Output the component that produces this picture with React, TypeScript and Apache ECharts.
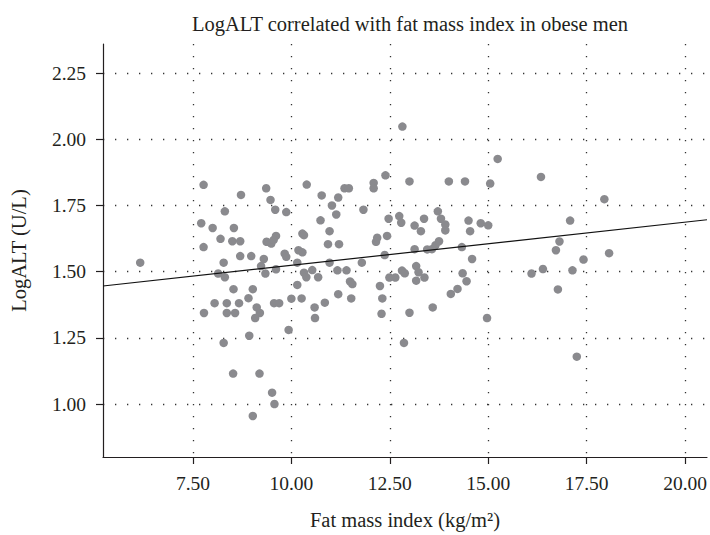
import React, { useEffect, useRef } from "react";
import * as echarts from "echarts";

const titleText = "LogALT correlated with fat mass index in obese men";
const xAxisName = "Fat mass index (kg/m\u00B2)";
const yAxisName = "LogALT (U/L)";

const xTicks = [7.5, 10, 12.5, 15, 17.5, 20];
const yTicks = [1.0, 1.25, 1.5, 1.75, 2.0, 2.25];
const xRange = [5.215, 20.557];
const yRange = [0.8, 2.36];

// regression line: y = intercept + slope * x
const regIntercept = 1.361;
const regSlope = 0.0163;

const points: number[][] = [
  [6.16, 1.534], [7.77, 1.828], [8.72, 1.79], [9.36, 1.815], [9.47, 1.771], [9.59, 1.734],
  [9.87, 1.725], [8.31, 1.728], [7.71, 1.683], [8.0, 1.665], [8.54, 1.665], [8.2, 1.624],
  [8.5, 1.615], [8.7, 1.615], [7.77, 1.593], [9.37, 1.613], [9.49, 1.606], [9.61, 1.635],
  [9.55, 1.62], [8.7, 1.559], [8.98, 1.559], [9.3, 1.548], [9.83, 1.568], [9.87, 1.556],
  [8.28, 1.534], [9.23, 1.521], [8.14, 1.493], [8.31, 1.479], [9.34, 1.493], [9.61, 1.509],
  [10.15, 1.534], [10.15, 1.45], [8.53, 1.434], [9.02, 1.434], [8.91, 1.4], [8.05, 1.381],
  [8.36, 1.381], [8.67, 1.381], [9.12, 1.365], [9.2, 1.344], [9.08, 1.325], [7.78, 1.344],
  [8.36, 1.344], [8.57, 1.344], [9.56, 1.381], [9.69, 1.381], [10.0, 1.398], [8.93, 1.258],
  [9.93, 1.28], [8.28, 1.231], [8.52, 1.115], [9.19, 1.115], [9.51, 1.043], [9.57, 1.0],
  [9.02, 0.955],
  [12.82, 2.048], [10.39, 1.829], [10.77, 1.788], [11.19, 1.78], [11.03, 1.75], [11.14, 1.716],
  [11.35, 1.815], [11.46, 1.815], [12.09, 1.835], [12.09, 1.815], [12.39, 1.864], [13.0, 1.841],
  [14.0, 1.841], [14.41, 1.841], [11.83, 1.734], [10.74, 1.694], [10.97, 1.653], [12.47, 1.7],
  [12.74, 1.71], [12.79, 1.685], [13.37, 1.7], [13.13, 1.674], [13.29, 1.653], [13.72, 1.728],
  [13.8, 1.7], [13.91, 1.678], [13.91, 1.656], [14.5, 1.693], [14.54, 1.653], [10.28, 1.644],
  [10.32, 1.638], [10.93, 1.604], [11.21, 1.604], [10.18, 1.581], [10.28, 1.573], [10.97, 1.534],
  [11.79, 1.534], [12.37, 1.563], [12.15, 1.613], [12.18, 1.628], [12.43, 1.635], [13.13, 1.585],
  [13.45, 1.584], [13.57, 1.585], [13.66, 1.6], [13.75, 1.615], [14.33, 1.593], [14.59, 1.548],
  [10.32, 1.496], [10.38, 1.479], [10.53, 1.506], [10.68, 1.479], [11.17, 1.505], [11.4, 1.505],
  [11.49, 1.463], [11.55, 1.453], [12.25, 1.446], [12.49, 1.478], [12.64, 1.478], [12.81, 1.504],
  [12.88, 1.494], [13.17, 1.521], [13.23, 1.498], [13.17, 1.466], [13.38, 1.478], [14.35, 1.494],
  [14.45, 1.464], [10.26, 1.399], [10.59, 1.365], [10.6, 1.325], [10.85, 1.383], [11.19, 1.415],
  [11.52, 1.399], [12.31, 1.399], [12.29, 1.341], [13.0, 1.345], [13.59, 1.365], [14.05, 1.416],
  [14.22, 1.435], [12.86, 1.231],
  [15.24, 1.926], [15.05, 1.833], [16.34, 1.858], [17.95, 1.774], [14.81, 1.683], [15.0, 1.675],
  [17.08, 1.693], [16.81, 1.614], [16.72, 1.581], [17.42, 1.546], [18.07, 1.57], [16.1, 1.493],
  [16.39, 1.51], [17.14, 1.505], [16.77, 1.433], [14.97, 1.325], [17.25, 1.179],
];

const FONT = "'Liberation Serif', 'DejaVu Serif', serif";

export default function App() {
  const ref = useRef<HTMLDivElement>(null);
  useEffect(() => {
    if (!ref.current) return;
    const chart = echarts.init(ref.current, undefined, { renderer: "svg" });
    const gridLine = { show: true, lineStyle: { color: "#333", width: 1.3, type: [1.3, 10.7] as any } };
    const regLine = [
      [xRange[0], regIntercept + regSlope * xRange[0]],
      [xRange[1], regIntercept + regSlope * xRange[1]],
    ];
    chart.setOption({
      animation: false,
      backgroundColor: "#fff",
      textStyle: { fontFamily: FONT },
      graphic: [
        {
          type: "text",
          x: 410,
          y: 24,
          style: {
            text: titleText,
            fill: "#231f20",
            font: `20.5px ${FONT}`,
            textAlign: "center",
            textVerticalAlign: "middle",
          },
        },
      ],
      grid: { left: 103, right: 0, top: 44, bottom: 76, containLabel: false },
      xAxis: {
        type: "value",
        min: xRange[0],
        max: xRange[1],
        name: xAxisName,
        nameLocation: "middle",
        nameGap: 52,
        nameTextStyle: { fontFamily: FONT, fontSize: 20.5, color: "#231f20" },
        axisLine: { show: true, onZero: false, lineStyle: { color: "#231f20", width: 1.2 } },
        axisTick: { show: true, customValues: xTicks, length: 7, lineStyle: { color: "#231f20", width: 1.2 } },
        axisLabel: {
          customValues: xTicks,
          formatter: (v: number) => v.toFixed(2),
          fontFamily: FONT,
          fontSize: 19.5,
          color: "#231f20",
          margin: 16,
        },
        splitLine: gridLine,
      },
      yAxis: {
        type: "value",
        min: yRange[0],
        max: yRange[1],
        name: yAxisName,
        nameLocation: "middle",
        nameGap: 74,
        nameRotate: 90,
        nameTextStyle: { fontFamily: FONT, fontSize: 20.5, color: "#231f20" },
        axisLine: { show: true, onZero: false, lineStyle: { color: "#231f20", width: 1.2 } },
        axisTick: { show: true, customValues: yTicks, length: 7, lineStyle: { color: "#231f20", width: 1.2 } },
        axisLabel: {
          customValues: yTicks,
          formatter: (v: number) => v.toFixed(2),
          fontFamily: FONT,
          fontSize: 19.5,
          color: "#231f20",
          margin: 17,
        },
        splitLine: gridLine,
      },
      series: [
        {
          type: "scatter",
          data: points,
          symbol: "circle",
          symbolSize: 8.5,
          itemStyle: { color: "#8a8a8e", opacity: 1 },
          z: 2,
        },
        {
          type: "line",
          data: regLine,
          symbol: "none",
          lineStyle: { color: "#111", width: 1.2 },
          z: 3,
        },
      ],
    });
    return () => chart.dispose();
  }, []);
  return (
    <div
      ref={ref}
      style={{ position: "fixed", left: 0, top: 0, width: 710, height: 535, background: "#fff" }}
    />
  );
}
